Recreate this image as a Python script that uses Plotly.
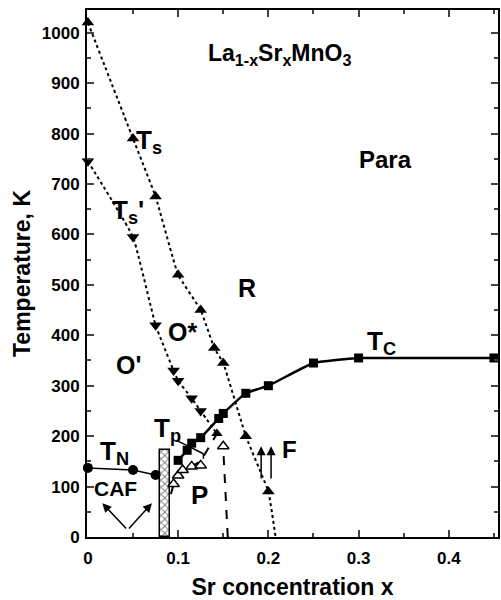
import plotly.graph_objects as go

# ---- data ----
ts_x = [0.0, 0.05, 0.075, 0.1, 0.125, 0.14, 0.15, 0.175, 0.2]
ts_y = [1020, 790, 675, 520, 450, 375, 345, 200, 90]
ts_end = (0.208, 0)

tsp_x = [0.0, 0.05, 0.075, 0.095, 0.1, 0.115, 0.125]
tsp_y = [745, 595, 420, 330, 310, 275, 250]
tsp_end = (0.143, 205)

tc_x = [0.1, 0.11, 0.115, 0.125, 0.145, 0.15, 0.175, 0.2, 0.25, 0.3, 0.45]
tc_y = [152, 172, 186, 197, 235, 245, 285, 300, 345, 355, 355]

tn_x = [0.0, 0.05, 0.075]
tn_y = [137, 133, 123]

tp_x = [0.095, 0.1, 0.105, 0.115, 0.125]
tp_y = [105, 122, 133, 140, 142]

dash1_x = [0.092, 0.095, 0.1, 0.105, 0.115, 0.125, 0.143]
dash1_y = [85, 105, 122, 133, 140, 150, 205]
dash2_x = [0.155, 0.15]
dash2_y = [0, 175]
open_top = (0.15, 180)

hatch_x = 0.0855
hatch_w = 0.011
hatch_h = 173

FONT = "Liberation Sans"

fig = go.Figure()

# hatched two-phase region
fig.add_trace(go.Bar(x=[hatch_x], y=[hatch_h], width=[hatch_w],
                     marker=dict(color="white", line=dict(color="black", width=1.5),
                                 pattern=dict(shape="x", fgcolor="black", size=5, solidity=0.35)),
                     showlegend=False, hoverinfo="skip"))

dot = dict(color="black", width=2, dash="dot")
# Ts
fig.add_trace(go.Scatter(x=ts_x + [ts_end[0]], y=ts_y + [ts_end[1]], mode="lines",
                         line=dict(shape="spline", smoothing=0.3, **dot), showlegend=False))
fig.add_trace(go.Scatter(x=ts_x, y=ts_y, mode="markers", cliponaxis=False,
                         marker=dict(symbol="triangle-up", size=11, color="black"), showlegend=False))
# Ts'
fig.add_trace(go.Scatter(x=tsp_x + [tsp_end[0]], y=tsp_y + [tsp_end[1]], mode="lines",
                         line=dict(shape="spline", smoothing=0.3, **dot), showlegend=False))
fig.add_trace(go.Scatter(x=tsp_x, y=tsp_y, mode="markers", cliponaxis=False,
                         marker=dict(symbol="triangle-down", size=11, color="black"), showlegend=False))

# dashed boundaries
fig.add_trace(go.Scatter(x=dash1_x, y=dash1_y, mode="lines",
                         line=dict(color="black", width=2, dash="dash"), showlegend=False))
fig.add_trace(go.Scatter(x=[tsp_end[0]], y=[tsp_end[1]], mode="markers",
                         marker=dict(symbol="triangle-up", size=10, color="black"), showlegend=False))
fig.add_trace(go.Scatter(x=dash2_x, y=dash2_y, mode="lines",
                         line=dict(color="black", width=2, dash="dash"), showlegend=False))
fig.add_trace(go.Scatter(x=[open_top[0]], y=[open_top[1]], mode="markers",
                         marker=dict(symbol="triangle-up-open", size=10, color="black",
                                     line=dict(width=1.5)), showlegend=False))

# Tp open triangles
fig.add_trace(go.Scatter(x=tp_x, y=tp_y, mode="markers",
                         marker=dict(symbol="triangle-up", size=10, color="white",
                                     line=dict(color="black", width=1.5)), showlegend=False))

# Tc (curved rise, then flat plateau)
n_curve = tc_x.index(0.3) + 1
fig.add_trace(go.Scatter(x=tc_x[:n_curve], y=tc_y[:n_curve], mode="lines",
                         line=dict(color="black", width=2.5, shape="spline", smoothing=0.4),
                         showlegend=False))
fig.add_trace(go.Scatter(x=tc_x[n_curve - 1:], y=tc_y[n_curve - 1:], mode="lines",
                         line=dict(color="black", width=2.5), showlegend=False))
fig.add_trace(go.Scatter(x=tc_x, y=tc_y, mode="markers", cliponaxis=False,
                         marker=dict(symbol="square", size=9, color="black"), showlegend=False))
# TN
fig.add_trace(go.Scatter(x=tn_x + [0.08], y=tn_y + [121], mode="lines",
                         line=dict(color="black", width=1.5), showlegend=False))
fig.add_trace(go.Scatter(x=tn_x, y=tn_y, mode="markers", cliponaxis=False,
                         marker=dict(symbol="circle", size=10, color="black"), showlegend=False))

# Tp leader line
fig.add_shape(type="line", x0=0.1, y0=190, x1=0.128, y1=165, line=dict(color="black", width=1.5))
fig.add_shape(type="line", x0=0.128, y0=165, x1=0.128, y1=155, line=dict(color="black", width=1.5))

def txt(x, y, s, size=22):
    fig.add_annotation(x=x, y=y, text=s, showarrow=False, xanchor="center", yanchor="middle",
                       font=dict(family=FONT, size=size, color="black", weight="bold"))

txt(0.212, 956, "La<sub>1-x</sub>Sr<sub>x</sub>MnO<sub>3</sub>", 23)
txt(0.33, 748, "Para", 24)
txt(0.176, 494, "R", 25)
txt(0.105, 407, "O*", 25)
txt(0.045, 341, "O'", 25)
txt(0.068, 785, "T<sub>s</sub>", 26)
txt(0.044, 646, "T<sub>s</sub>'", 26)
txt(0.029, 168, "T<sub>N</sub>", 26)
txt(0.031, 97, "CAF", 21)
txt(0.124, 83, "P", 26)
txt(0.088, 213, "T<sub>p</sub>", 26)
txt(0.223, 173, "F", 24)
txt(0.325, 386, "T<sub>C</sub>", 26)

def arrow(x0, y0, x1, y1):
    fig.add_annotation(x=x1, y=y1, ax=x0, ay=y0, xref="x", yref="y", axref="x", ayref="y",
                       text="", showarrow=True, arrowhead=2, arrowsize=1.2, arrowwidth=1.5,
                       arrowcolor="black")

arrow(0.044, 14, 0.016, 67)
arrow(0.044, 14, 0.071, 67)
arrow(0.192, 113, 0.192, 180)
arrow(0.203, 113, 0.203, 180)

axfont = dict(family=FONT, size=17, color="black", weight="bold")
titlefont = dict(family=FONT, size=23, color="black", weight="bold")

fig.update_xaxes(range=[-0.001, 0.4545], tick0=0, dtick=0.1, ticks="inside", ticklen=7, tickwidth=1.5,
                 minor=dict(dtick=0.05, ticks="inside", ticklen=4, tickwidth=1.5),
                 showline=True, linewidth=2, linecolor="black", mirror="allticks",
                 showgrid=False, zeroline=False, tickfont=axfont, ticklabelstandoff=5,
                 automargin=False,
                 title=dict(text="Sr concentration x", font=titlefont, standoff=14))
fig.update_yaxes(range=[0, 1045], tick0=0, dtick=100, ticks="inside", ticklen=7, tickwidth=1.5,
                 minor=dict(dtick=50, ticks="inside", ticklen=4, tickwidth=1.5),
                 showline=True, linewidth=2, linecolor="black", mirror="allticks",
                 showgrid=False, zeroline=False, tickfont=axfont, ticklabelstandoff=2,
                 automargin=False,
                 title=dict(text="Temperature, K", font=titlefont, standoff=5))

fig.update_layout(width=501, height=600, margin=dict(l=87, r=3, t=10, b=63),
                  plot_bgcolor="white", paper_bgcolor="white", showlegend=False, bargap=0)

fig.write_html("out.html")
